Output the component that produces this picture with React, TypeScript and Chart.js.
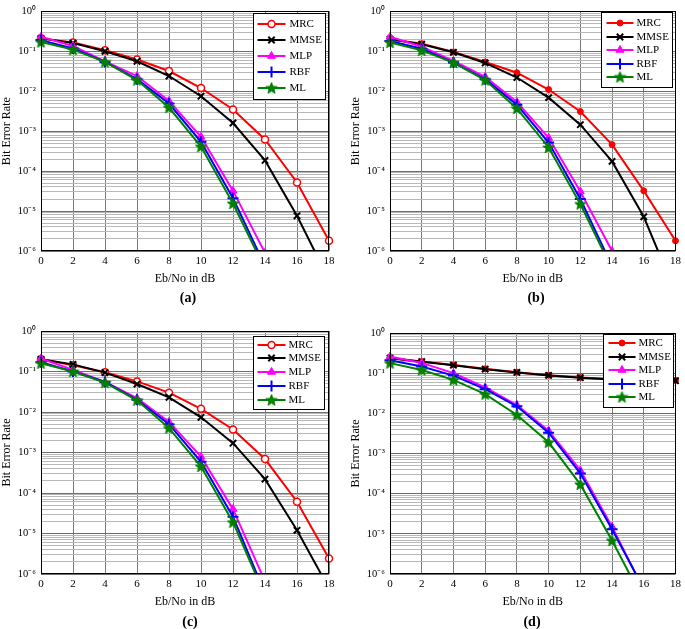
import React, { useEffect, useRef } from 'react';
import { Chart, registerables } from 'chart.js';

Chart.register(...registerables);

// ---------- data ----------
const ebNo = [0, 2, 4, 6, 8, 10, 12, 14, 16, 18];
const xTickValues = [0, 2, 4, 6, 8, 10, 12, 14, 16, 18];
const decadeExponents = [-6, -5, -4, -3, -2, -1, 0];
const minorMultipliers = [1, 2, 3, 4, 5, 6, 7, 8, 9];
const seriesNames = ['MRC', 'MMSE', 'MLP', 'RBF', 'ML'];
const captions = ['(a)', '(b)', '(c)', '(d)'];
const xTitle = 'Eb/No in dB';
const yTitle = 'Bit Error Rate';

// panel (a)
const mrcA = [0.21, 0.165, 0.106, 0.062, 0.032, 0.012, 0.0035, 6.2e-4, 5.2e-5, 1.8e-6];
const mmseA = [0.21, 0.16, 0.1, 0.056, 0.024, 0.0075, 0.0016, 1.85e-4, 7.6e-6, 1.9e-7];
const mlpA = [0.23, 0.135, 0.056, 0.024, 0.0057, 7.2e-4, 3.2e-5, 9e-7, null, null];
const rbfA = [0.19, 0.117, 0.054, 0.02, 0.0049, 5.4e-4, 2.1e-5, 4.2e-7, null, null];
const mlA = [0.17, 0.11, 0.054, 0.019, 0.0039, 4.1e-4, 1.55e-5, 3.5e-7, null, null];

// panel (b)
const mrcB = [0.2, 0.155, 0.096, 0.054, 0.029, 0.011, 0.0031, 4.6e-4, 3.2e-5, 1.8e-6];
const mmseB = [0.2, 0.15, 0.094, 0.051, 0.022, 0.0069, 0.00145, 1.75e-4, 7.2e-6, 9e-8];
const mlpB = [0.23, 0.13, 0.057, 0.023, 0.0054, 6.8e-4, 3.1e-5, 1.0e-6, null, null];
const rbfB = [0.18, 0.115, 0.052, 0.02, 0.0046, 5.2e-4, 2.0e-5, 4.2e-7, null, null];
const mlB = [0.165, 0.105, 0.052, 0.019, 0.0037, 3.9e-4, 1.5e-5, 3.5e-7, null, null];

// panel (c)
const mrcC = [0.2, 0.143, 0.096, 0.057, 0.03, 0.012, 0.0037, 6.9e-4, 6.1e-5, 2.4e-6];
const mmseC = [0.2, 0.15, 0.094, 0.049, 0.023, 0.0074, 0.0017, 2.2e-4, 1.2e-5, 4.4e-7];
const mlpC = [0.21, 0.11, 0.055, 0.022, 0.0057, 7.9e-4, 4.0e-5, 6.6e-7, null, null];
const rbfC = [0.17, 0.1, 0.055, 0.02, 0.005, 5.9e-4, 2.6e-5, 3.3e-7, null, null];
const mlC = [0.16, 0.1, 0.053, 0.0195, 0.004, 4.5e-4, 1.9e-5, 2.9e-7, null, null];

// panel (d)
const mrcD = [0.237, 0.195, 0.16, 0.128, 0.106, 0.089, 0.078, 0.071, 0.068, 0.066];
const mmseD = [0.235, 0.193, 0.158, 0.126, 0.104, 0.088, 0.077, 0.07, 0.067, 0.065];
const mlpD = [0.26, 0.18, 0.1, 0.044, 0.016, 0.0037, 3.8e-4, 1.5e-5, 4.0e-7, null];
const rbfD = [0.21, 0.147, 0.087, 0.04, 0.015, 0.0033, 3.2e-4, 1.3e-5, 4.3e-7, null];
const mlD = [0.178, 0.12, 0.068, 0.03, 0.0091, 0.0019, 1.7e-4, 6.8e-6, 2.1e-7, null];

const panelSeries = [
  [mrcA, mmseA, mlpA, rbfA, mlA],
  [mrcB, mmseB, mlpB, rbfB, mlB],
  [mrcC, mmseC, mlpC, rbfC, mlC],
  [mrcD, mmseD, mlpD, rbfD, mlD],
];

// ---------- layout / style ----------
const SERIF = '"Liberation Serif", "Times New Roman", Times, serif';
const X_AXIS_H = 40;
const Y_AXIS_W = 41;

const panelLayouts = [
  { left: 0, top: 0, width: 340, padLeft: 0, padRight: 11, padTop: 10, plotH: 241, mrcFilled: false, captionX: 188, captionY: 298,
    legend: { insetRight: 4, insetTop: 2, width: 72, height: 86, firstRow: 10.5, rowH: 16, lineStart: 4, lineEnd: 32, textStart: 36 } },
  { left: 340, top: 0, width: 345, padLeft: 9, padRight: 8, padTop: 11, plotH: 240, mrcFilled: true, captionX: 536, captionY: 298,
    legend: { insetRight: 4, insetTop: 1, width: 71, height: 75, firstRow: 10.5, rowH: 13.5, lineStart: 5, lineEnd: 32, textStart: 35 } },
  { left: 0, top: 310, width: 340, padLeft: 0, padRight: 11, padTop: 21, plotH: 243, mrcFilled: false, captionX: 190, captionY: 622,
    legend: { insetRight: 5, insetTop: 5, width: 71, height: 73, firstRow: 8, rowH: 13.75, lineStart: 4, lineEnd: 32, textStart: 35 } },
  { left: 340, top: 310, width: 345, padLeft: 9, padRight: 8, padTop: 23, plotH: 241, mrcFilled: true, captionX: 532, captionY: 622,
    legend: { insetRight: 3, insetTop: 1, width: 70, height: 73, firstRow: 8.5, rowH: 13.6, lineStart: 5, lineEnd: 32, textStart: 35 } },
];

const SUP: Record<string, string> = { '0': '⁰', '1': '¹', '2': '²', '3': '³', '4': '⁴', '5': '⁵', '6': '⁶', '7': '⁷', '8': '⁸', '9': '⁹', '-': '⁻' };
function decadeLabel(exp: number) {
  return '10' + String(exp).split('').map((c) => SUP[c]).join('');
}
function isDecade(v: number) {
  const l = Math.log10(v);
  return Math.abs(l - Math.round(l)) < 1e-6;
}

function makePentagram(color: string, size: number) {
  const c = document.createElement('canvas');
  c.width = size;
  c.height = size;
  const g = c.getContext('2d')!;
  const cx = size / 2, cy = size / 2 + 0.5;
  const R = size / 2 - 0.5, r = R * 0.42;
  g.beginPath();
  for (let k = 0; k < 10; k++) {
    const ang = -Math.PI / 2 + (k * Math.PI) / 5;
    const rad = k % 2 === 0 ? R : r;
    const px = cx + rad * Math.cos(ang), py = cy + rad * Math.sin(ang);
    if (k === 0) g.moveTo(px, py); else g.lineTo(px, py);
  }
  g.closePath();
  g.fillStyle = color;
  g.fill();
  g.strokeStyle = color;
  g.lineWidth = 1;
  g.stroke();
  return c;
}

function drawMarker(ctx: CanvasRenderingContext2D, ds: any, x: number, y: number) {
  const style = ds.pointStyle;
  const r = ds.pointRadius;
  ctx.save();
  ctx.lineWidth = ds.pointBorderWidth;
  ctx.strokeStyle = ds.pointBorderColor;
  ctx.fillStyle = ds.pointBackgroundColor;
  if (style && typeof style === 'object') {
    ctx.drawImage(style, x - style.width / 2, y - style.height / 2);
  } else if (style === 'circle') {
    ctx.beginPath();
    ctx.arc(x, y, r, 0, Math.PI * 2);
    ctx.fill();
    ctx.stroke();
  } else if (style === 'crossRot') {
    const d = r * Math.SQRT1_2;
    ctx.beginPath();
    ctx.moveTo(x - d, y - d); ctx.lineTo(x + d, y + d);
    ctx.moveTo(x - d, y + d); ctx.lineTo(x + d, y - d);
    ctx.stroke();
  } else if (style === 'cross') {
    ctx.beginPath();
    ctx.moveTo(x, y - r); ctx.lineTo(x, y + r);
    ctx.moveTo(x - r, y); ctx.lineTo(x + r, y);
    ctx.stroke();
  } else if (style === 'triangle') {
    const s = r * 1.5;
    ctx.beginPath();
    ctx.moveTo(x, y - r);
    ctx.lineTo(x + s * 0.58, y + r * 0.5);
    ctx.lineTo(x - s * 0.58, y + r * 0.5);
    ctx.closePath();
    ctx.fill();
    ctx.stroke();
  }
  ctx.restore();
}

const frameLegendPlugin = {
  id: 'frameLegend',
  afterDatasetsDraw(chart: any, _args: any, opts: any) {
    const { ctx, chartArea: a } = chart;
    ctx.save();
    ctx.strokeStyle = '#000';
    ctx.lineWidth = 1;
    const L = Math.round(a.left), T = Math.round(a.top), R = Math.round(a.right), B = Math.round(a.bottom);
    ctx.strokeRect(L + 0.5, T + 0.5, R - L - 1, B - T - 1);

    const x0 = Math.round(a.right - opts.insetRight - opts.width) + 0.5;
    const y0 = Math.round(a.top + opts.insetTop) + 0.5;
    ctx.fillStyle = '#fff';
    ctx.fillRect(x0, y0, opts.width, opts.height);
    ctx.strokeStyle = '#000';
    ctx.lineWidth = 1;
    ctx.strokeRect(x0, y0, opts.width, opts.height);
    chart.data.datasets.forEach((ds: any, i: number) => {
      const y = Math.round(y0 + opts.firstRow + i * opts.rowH);
      ctx.strokeStyle = ds.borderColor;
      ctx.lineWidth = ds.borderWidth;
      ctx.beginPath();
      ctx.moveTo(x0 + opts.lineStart, y);
      ctx.lineTo(x0 + opts.lineEnd, y);
      ctx.stroke();
      drawMarker(ctx, ds, x0 + (opts.lineStart + opts.lineEnd) / 2, y);
      ctx.fillStyle = '#000';
      ctx.font = `11px ${SERIF}`;
      ctx.textBaseline = 'middle';
      ctx.textAlign = 'left';
      ctx.fillText(ds.label, x0 + opts.textStart, y + 0.5);
    });
    ctx.restore();
  },
};

function Panel({ index }: { index: number }) {
  const ref = useRef<HTMLCanvasElement | null>(null);
  const lay = panelLayouts[index];
  const height = lay.padTop + lay.plotH + X_AXIS_H;

  useEffect(() => {
    const star = makePentagram('#008000', 13);
    const vals = panelSeries[index];
    const styles = [
      lay.mrcFilled
        ? { color: '#ff0000', pointStyle: 'circle', pointRadius: 3, pointBorderWidth: 1, pointBackgroundColor: '#ff0000' }
        : { color: '#ff0000', pointStyle: 'circle', pointRadius: 3.5, pointBorderWidth: 1.5, pointBackgroundColor: '#ffffff' },
      { color: '#000000', pointStyle: 'crossRot', pointRadius: 4.5, pointBorderWidth: 2, pointBackgroundColor: '#000000' },
      { color: '#ff00ff', pointStyle: 'triangle', pointRadius: 4.5, pointBorderWidth: 1, pointBackgroundColor: '#ff00ff' },
      { color: '#0000ff', pointStyle: 'cross', pointRadius: 5.5, pointBorderWidth: 2, pointBackgroundColor: '#0000ff' },
      { color: '#008000', pointStyle: star, pointRadius: 5, pointBorderWidth: 1, pointBackgroundColor: '#008000' },
    ];
    const datasets = seriesNames.map((name, i) => ({
      label: name,
      data: ebNo
        .map((x, k) => ({ x, y: vals[i][k] }))
        .filter((p) => p.y !== null && p.y !== undefined),
      borderColor: styles[i].color,
      backgroundColor: styles[i].color,
      borderWidth: 2,
      tension: 0,
      fill: false,
      clip: { left: 7, top: 7, right: 7, bottom: 0 },
      pointStyle: styles[i].pointStyle as any,
      pointRadius: styles[i].pointRadius,
      pointHoverRadius: styles[i].pointRadius,
      pointBorderWidth: styles[i].pointBorderWidth,
      pointBorderColor: styles[i].color,
      pointBackgroundColor: styles[i].pointBackgroundColor,
      order: 5 - i,
    }));

    const chart = new Chart(ref.current!, {
      type: 'line',
      data: { datasets },
      options: {
        animation: false,
        responsive: false,
        maintainAspectRatio: false,
        events: [],
        layout: { padding: { left: lay.padLeft, right: lay.padRight, top: lay.padTop, bottom: 0 } },
        plugins: {
          legend: { display: false },
          tooltip: { enabled: false },
          title: { display: false },
          frameLegend: lay.legend,
        } as any,
        scales: {
          x: {
            type: 'linear',
            min: 0,
            max: 18,
            afterBuildTicks: (s: any) => {
              s.ticks = xTickValues.map((v) => ({ value: v }));
            },
            afterFit: (s: any) => {
              s.height = X_AXIS_H;
            },
            ticks: {
              autoSkip: false,
              maxRotation: 0,
              padding: 4,
              color: '#000',
              font: { family: SERIF, size: 11 },
            },
            grid: { color: '#7a7a7a', lineWidth: 1, drawTicks: false },
            border: { display: false },
            title: {
              display: true,
              text: xTitle,
              color: '#000',
              font: { family: SERIF, size: 12 },
              padding: { top: 0, bottom: 5 },
            },
          },
          y: {
            type: 'logarithmic',
            min: 1e-6,
            max: 1,
            afterBuildTicks: (s: any) => {
              const t: { value: number }[] = [];
              decadeExponents.forEach((e) => {
                minorMultipliers.forEach((m) => {
                  if (e < 0 || m === 1) t.push({ value: m * Math.pow(10, e) });
                });
              });
              s.ticks = t;
            },
            afterFit: (s: any) => {
              s.width = Y_AXIS_W;
            },
            ticks: {
              autoSkip: false,
              padding: 5,
              color: '#000',
              font: { family: SERIF, size: 10.5 },
              callback: (v: any) => (isDecade(Number(v)) ? decadeLabel(Math.round(Math.log10(Number(v)))) : ''),
            },
            grid: {
              drawTicks: false,
              lineWidth: 1,
              color: (c: any) => (c.tick && isDecade(c.tick.value) ? '#6e6e6e' : '#b8b8b8'),
            },
            border: { display: false },
            title: {
              display: true,
              text: yTitle,
              color: '#000',
              font: { family: SERIF, size: 12 },
              padding: { top: 0, bottom: 0 },
            },
          },
        },
      },
      plugins: [frameLegendPlugin],
    });
    return () => chart.destroy();
  }, [index]);

  return (
    <>
      <canvas
        ref={ref}
        width={lay.width}
        height={height}
        style={{ position: 'absolute', left: lay.left, top: lay.top, width: lay.width, height, display: 'block' }}
      />
      <div
        style={{
          position: 'absolute',
          left: lay.captionX - 30,
          top: lay.captionY - 8,
          width: 60,
          height: 16,
          lineHeight: '16px',
          textAlign: 'center',
          fontFamily: SERIF,
          fontWeight: 'bold',
          fontSize: 14,
          color: '#000',
        }}
      >
        {captions[index]}
      </div>
    </>
  );
}

export default function App() {
  return (
    <div style={{ position: 'absolute', left: 0, top: 0, width: 685, height: 629, background: '#fff', overflow: 'hidden' }}>
      {panelLayouts.map((_, i) => (
        <Panel key={i} index={i} />
      ))}
    </div>
  );
}
